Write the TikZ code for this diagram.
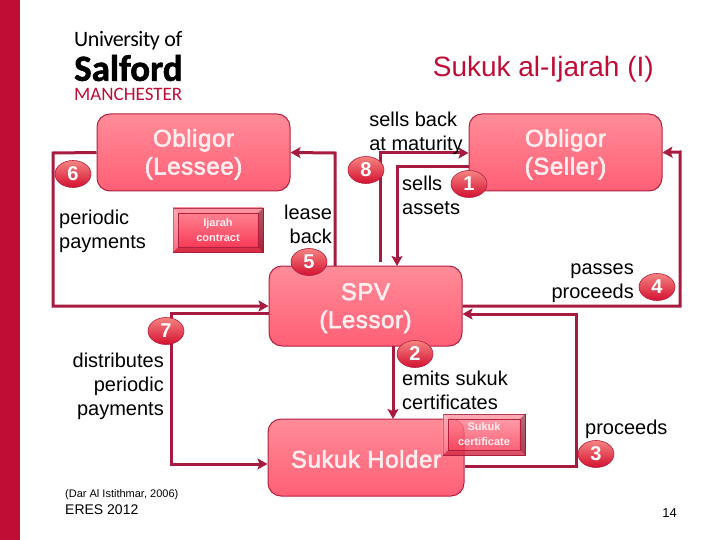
\documentclass[tikz,border=0pt]{standalone}
\usepackage{fontspec}
\setmainfont{Liberation Sans}
\newfontfamily\logofont{Carlito}
\newfontfamily\univfont[LetterSpace=-2]{Carlito}
\newfontfamily\salfordfont[FakeBold=1.5]{Carlito Bold}
\newfontfamily\partyfont[FakeBold=2.5,LetterSpace=2.5]{Liberation Sans}
\usetikzlibrary{arrows.meta,calc,shapes.geometric}

\definecolor{salfordred}{HTML}{C00D36}
\definecolor{linered}{HTML}{A61B3F}
\definecolor{boxtop}{HTML}{FF8C98}
\definecolor{boxbottom}{HTML}{FF5F76}
\definecolor{boxedge}{HTML}{B3203F}
\definecolor{boxtext}{HTML}{FFEEF0}
\definecolor{badgetop}{HTML}{F58482}
\definecolor{badgebottom}{HTML}{D41030}
\definecolor{buttonbottom}{HTML}{F8304F}

\newcommand{\lowered}[1]{\rule{0pt}{#1}}

\tikzset{
    party/.style={draw=boxedge,line width=1pt,rounded corners=13pt,top color=boxtop,bottom color=boxbottom,
        text=boxtext,font=\partyfont\fontsize{24}{28}\selectfont,align=center,inner sep=0pt},
    flow/.style={draw=linered,line width=3pt},
    badge/.style={ellipse,draw=boxedge,line width=.6pt,top color=badgetop,bottom color=badgebottom,
        minimum width=36pt,minimum height=27pt,inner sep=0pt,text=white,font=\fontsize{20}{20}\selectfont\bfseries},
    says/.style={font=\fontsize{20}{24}\selectfont,align=left,inner sep=0pt},
    button/.style={draw=boxedge,line width=.7pt,top color=boxtop,bottom color=buttonbottom,text=boxtext,
        font=\fontsize{11}{15}\selectfont\bfseries,align=center,inner sep=0pt}
}
\newcommand{\bevel}[1]{%
    \fill[white,opacity=.3] (#1.north west) -- (#1.south west) -- ($(#1.south west)+(5.5,-5.5)$) -- ($(#1.north west)+(5.5,5.5)$) -- cycle;
    \fill[white,opacity=.1] (#1.north west) -- (#1.north east) -- ($(#1.north east)+(-5.5,5.5)$) -- ($(#1.north west)+(5.5,5.5)$) -- cycle;
    \fill[black,opacity=.32] (#1.north east) -- (#1.south east) -- ($(#1.south east)+(-5.5,-5.5)$) -- ($(#1.north east)+(-5.5,5.5)$) -- cycle;
    \fill[black,opacity=.12] (#1.south west) -- (#1.south east) -- ($(#1.south east)+(-5.5,-5.5)$) -- ($(#1.south west)+(5.5,-5.5)$) -- cycle;
    \draw[boxedge,line width=.5pt] ($(#1.north west)+(5.5,5.5)$) rectangle ($(#1.south east)+(-5.5,-5.5)$);
}

\begin{document}
\begin{tikzpicture}[>={Stealth[length=10pt,width=11pt,inset=2pt]},x=1pt,y=-1pt]
    \useasboundingbox (0,0) rectangle (720,540);
    \fill[salfordred] (0,0) rectangle (20,540);

    % logo
    \node[anchor=west,inner sep=0pt,font=\univfont\fontsize{22}{22}\selectfont] (univ) at (74,41) {University of};
    \node[anchor=west,inner sep=0pt,font=\salfordfont\fontsize{37}{37}\selectfont] (salford) at (74,68) {Salford};
    \node[anchor=west,inner sep=0pt,text=salfordred,font=\logofont\fontsize{19}{19}\selectfont] (manchester) at (74,94) {MANCHESTER};

    \node[anchor=east,inner sep=0pt,text=salfordred,font=\fontsize{28}{28}\selectfont] (title) at (654,69) {Sukuk al-Ijarah (I)};

    % connector corners
    \coordinate (c6) at (53,153);
    \coordinate (c7) at (171,313);
    \coordinate (c5) at (335,153);
    \coordinate (c5b) at (335,266);
    \coordinate (c8) at (380,153);
    \coordinate (c8b) at (380,262);
    \coordinate (c1) at (397,167);
    \coordinate (c1b) at (397,266);
    \coordinate (c4) at (680,152);
    \coordinate (c4b) at (680,306);
    \coordinate (c3) at (576,314);
    \coordinate (c3b) at (576,466);
    \coordinate (c2) at (393,346);
    \coordinate (c2b) at (393,419);

    \node[party,minimum width=193pt,minimum height=77pt] (lessee) at (193.5,152.5) {\lowered{21pt}Obligor\\(Lessee)};
    \node[party,minimum width=193pt,minimum height=77pt] (seller) at (565.5,152.5) {\lowered{21pt}Obligor\\(Seller)};
    \node[party,minimum width=193pt,minimum height=80pt] (spv) at (365.5,306) {\lowered{21pt}SPV\\(Lessor)};
    \node[party,minimum width=196pt,minimum height=77pt] (holder) at (366,457.5) {\lowered{20.5pt}Sukuk Holder};

    \draw[flow,->] (lessee.west) -- (c6) |- (spv.west);
    \draw[flow,->] (c5b) -- (c5) -- (lessee.east);
    \draw[flow,->] (c8b) -- (c8) -- (c8 -| seller.west);
    \draw[flow,->] (c1 -| seller.west) -- (c1) -- (c1b);
    \draw[flow,->] (c4b -| spv.east) -- (c4b) -- (c4) -- (seller.east);
    \draw[flow,->] (c3b -| holder.east) -- (c3b) -- (c3) -- (c3 -| spv.east);
    \draw[flow,->] (c7 -| spv.west) -- (c7) |- ([yshift=-6.5pt]holder.west);
    \draw[flow,->] (c2) -- (c2b);

    % labels
    \node[says,anchor=north west] (periodic) at (59,210) {periodic\\payments};
    \node[says,anchor=north,align=right] (lease) at (308,205) {lease\\back};
    \node[says,anchor=north,align=left] (sellsback) at (416,112) {sells back\\at maturity};
    \node[says,anchor=north west] (sells) at (402,176) {sells};
    \node[says,anchor=north west] (assets) at (402,201) {assets};
    \node[says,anchor=north east,align=right] (passes) at (634,264) {passes\\proceeds};
    \node[says,anchor=north east,align=right] (distributes) at (164,353) {distributes\\periodic\\payments};
    \node[says,anchor=north west] (emits) at (402,371) {emits sukuk\\certificates};
    \node[says,anchor=north west] (proceeds) at (585,420) {proceeds};

    % buttons
    \node[button,minimum width=90pt,minimum height=44pt] (ijarah) at (218,230) {Ijarah\\contract};
    \bevel{ijarah}
    \node[button,fill opacity=.8,text opacity=1,minimum width=82pt,minimum height=41pt] (sukuk) at (484,434.5) {Sukuk\\certificate};
    \bevel{sukuk}

    % badges
    \foreach \n/\x/\y in {1/469/184,2/415/354,3/596/454,4/657/287,5/309/262,6/73/174,7/166/331,8/366/170}
        {\node[badge] (b\n) at (\x,\y) {\n};}

    \node[anchor=west,inner sep=0pt,font=\fontsize{11}{11}\selectfont] (source) at (65,495) {(Dar Al Istithmar, 2006)};
    \node[anchor=west,inner sep=0pt,font=\fontsize{14}{14}\selectfont] (eres) at (65,510) {ERES 2012};
    \node[anchor=east,inner sep=0pt,font=\fontsize{13}{13}\selectfont] (page) at (677,513) {14};
\end{tikzpicture}
\end{document}
